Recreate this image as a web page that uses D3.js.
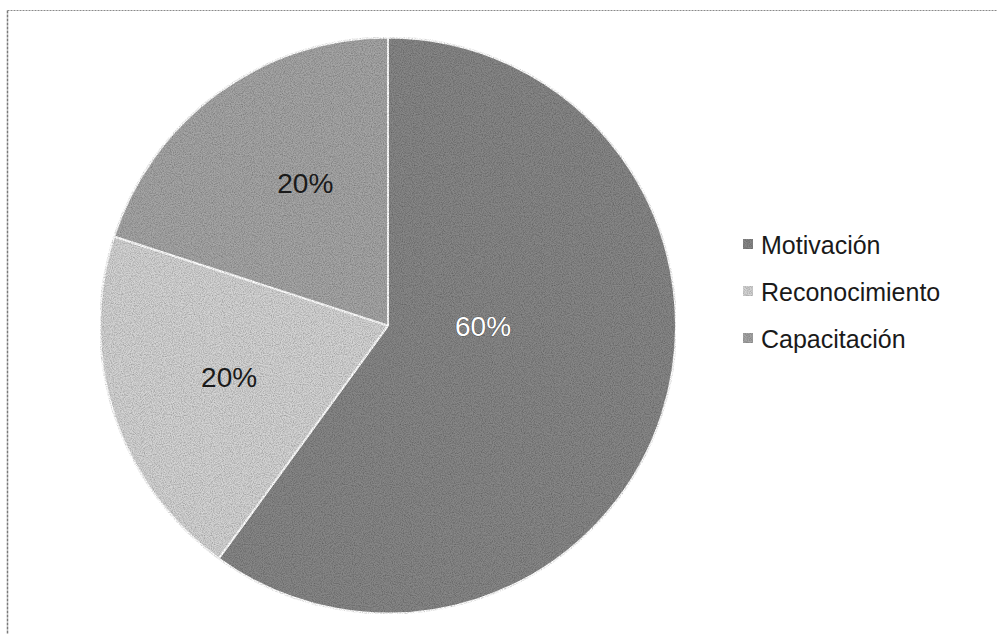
<!DOCTYPE html>
<html>
<head>
<meta charset="utf-8">
<script src="https://cdn.jsdelivr.net/npm/d3@7"></script>
<style>
  html, body { margin: 0; padding: 0; background: #fff; }
  svg { display: block; font-family: "Liberation Sans", Arial, Helvetica, sans-serif; }
</style>
</head>
<body>
<svg id="chart" width="997" height="634"></svg>
<script>
// Survey result shares
const categories = ["Motivación", "Reconocimiento", "Capacitación"];
const values = [60, 20, 20];
const labels = ["60%", "20%", "20%"];
const colors = ["#878787", "#d4d4d4", "#a6a6a6"];
const labelColors = ["#ffffff", "#1a1a1a", "#1a1a1a"];

// Label placement: radius as a fraction of the pie radius, and an angle tweak (radians)
const labelRadius = [0.33, 0.58, 0.57];
const labelAngleShift = [-0.30, 0, 0.10];

const svg = d3.select("#chart");
const W = 997, H = 634;

// Grainy print texture
const defs = svg.append("defs");
const f = defs.append("filter").attr("id", "grain").attr("x", 0).attr("y", 0).attr("width", 1).attr("height", 1);
f.append("feTurbulence").attr("type", "fractalNoise").attr("baseFrequency", 0.9).attr("numOctaves", 2).attr("seed", 3).attr("result", "noise");
f.append("feColorMatrix").attr("in", "noise").attr("type", "matrix")
  .attr("values", "0 0 0 0 0  0 0 0 0 0  0 0 0 0 0  0 0 0 0.9 -0.3").attr("result", "dots");
f.append("feComposite").attr("in", "dots").attr("in2", "SourceGraphic").attr("operator", "in").attr("result", "dotsIn");
f.append("feMerge").selectAll("feMergeNode").data(["SourceGraphic", "dotsIn"]).join("feMergeNode").attr("in", d => d);

// Chart frame (top and left edges)
svg.append("line").attr("x1", 7.5).attr("x2", W).attr("y1", 10.5).attr("y2", 10.5)
  .attr("stroke", "#8a8a8a").attr("stroke-width", 1.2).attr("stroke-dasharray", "2,1");
svg.append("line").attr("x1", 7.5).attr("x2", 7.5).attr("y1", 10.5).attr("y2", H)
  .attr("stroke", "#7a7a7a").attr("stroke-width", 1.5).attr("stroke-dasharray", "3,1");

const cx = 388, cy = 325.5, r = 288;
const g = svg.append("g").attr("transform", `translate(${cx},${cy})`);

const pie = d3.pie().sort(null).value(d => d);
const arcs = pie(values);
const arc = d3.arc().innerRadius(0).outerRadius(r);

g.selectAll("path.slice").data(arcs).join("path")
  .attr("class", "slice")
  .attr("d", arc)
  .attr("fill", (d, i) => colors[i])
  .attr("stroke", "#ffffff")
  .attr("stroke-width", 2)
  .attr("filter", "url(#grain)");

// Data labels
g.selectAll("text.lbl").data(arcs).join("text")
  .attr("class", "lbl")
  .attr("transform", (d, i) => {
    const a = (d.startAngle + d.endAngle) / 2 + labelAngleShift[i];
    const rr = r * labelRadius[i];
    return `translate(${rr * Math.sin(a)},${-rr * Math.cos(a)})`;
  })
  .attr("text-anchor", "middle")
  .attr("dominant-baseline", "central")
  .attr("font-size", 28)
  .attr("fill", (d, i) => labelColors[i])
  .attr("stroke", (d, i) => i === 0 ? "#333" : "none")
  .attr("stroke-width", 0.7)
  .attr("paint-order", "stroke")
  .text((d, i) => labels[i]);

// Legend
const legend = svg.append("g").attr("transform", "translate(743,244)");
const rows = legend.selectAll("g").data(categories).join("g")
  .attr("transform", (d, i) => `translate(0,${i * 47})`);
rows.append("rect").attr("x", 0).attr("y", -5).attr("width", 10).attr("height", 10)
  .attr("fill", (d, i) => colors[i]).attr("filter", "url(#grain)");
rows.append("text").attr("x", 18).attr("y", 1)
  .attr("dominant-baseline", "central")
  .attr("font-size", 25).attr("fill", "#1a1a1a")
  .text(d => d);
</script>
</body>
</html>
